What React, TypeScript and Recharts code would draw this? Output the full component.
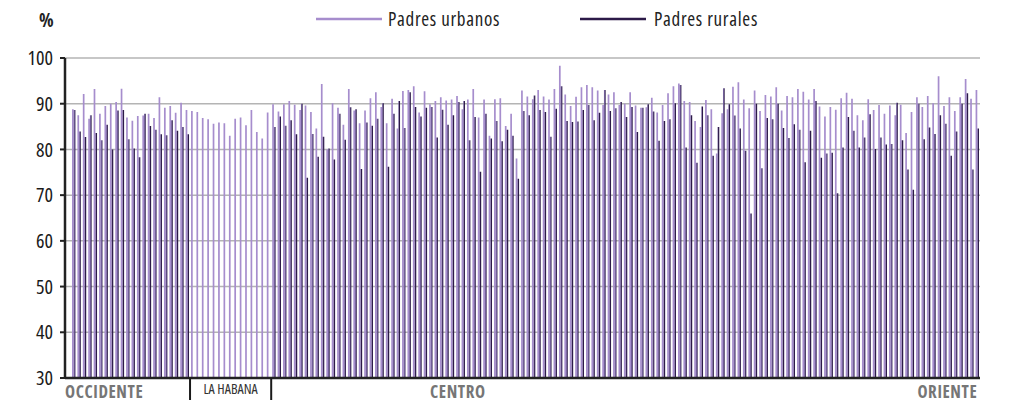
import React from 'react';
import { BarChart, Bar, XAxis, YAxis, CartesianGrid } from 'recharts';

// Percent values per municipality (urban / rural fathers)
const urbano: number[] = [
  88.8, 87.5, 92.1, 86.7, 93.2, 87.8, 89.5, 90.0, 90.4, 93.3, 87.0, 86.3, 87.3, 87.4, 87.8, 86.9, 91.4, 89.1, 89.5, 88.0, 90.2, 88.6,
  88.4, 88.2, 86.9, 86.6, 85.6, 85.9, 85.7, 83.0, 86.7, 87.0, 85.3, 88.6, 83.8, 82.4, 88.1,
  89.9, 88.3, 89.9, 90.6, 89.8, 88.6, 89.6, 88.2, 84.6, 94.3, 80.0, 90.1, 89.1, 85.4, 93.2, 88.5, 85.7,
  88.5, 91.2, 92.5, 89.3, 85.7, 91.1, 84.6, 92.8, 93.0, 93.8, 88.1, 92.7, 89.9, 90.6, 91.4, 90.7, 90.9, 91.7, 88.8,
  90.9, 93.2, 87.0, 90.9, 83.0, 91.0, 91.2, 85.1, 87.8, 78.0, 92.9, 91.6, 91.0, 93.0, 91.6, 90.9, 93.2, 98.3,
  92.0, 89.5, 91.5, 93.6, 94.1, 93.6, 92.9, 89.7, 92.0, 92.5, 89.7, 90.0, 92.5, 89.6, 89.1, 89.2, 91.3, 88.1, 89.7,
  92.3, 93.8, 94.4, 90.6, 90.4, 86.2, 84.9, 90.8, 88.8, 79.1, 87.9, 88.8, 93.7, 94.7, 90.9, 89.0, 92.9, 88.4,
  91.9, 91.6, 93.6, 88.5, 91.7, 91.4, 93.2, 92.6, 90.9, 93.2, 89.4, 87.2, 89.3, 88.7, 91.2, 92.4, 91.1, 87.5, 86.4,
  91.0, 88.6, 89.7, 87.8, 89.6, 87.5, 89.8, 83.6, 88.2, 91.4, 89.3, 91.7, 90.1, 96.0, 89.5, 91.4, 88.4, 91.4, 95.4, 91.1, 93.0,
];

const rural: (number | null)[] = [
  88.6, 83.9, 82.7, 87.5, 83.6, 82.0, 85.4, 80.0, 88.5, 88.6, 82.2, 80.2, 78.3, 87.8, 85.1, 84.3, 83.3, 83.1, 86.4, 84.1, 84.9, 83.3,
  null, null, null, null, null, null, null, null, null, null, null, null, null, null, null,
  84.9, 87.2, 85.2, 86.4, 83.3, 90.0, 73.8, 83.4, 78.4, 82.8, 80.2, 77.8, 87.8, 82.1, 89.2, 88.8, 75.7,
  85.9, 85.2, 86.7, 90.1, 76.2, 87.8, 90.6, 84.7, 92.5, 89.3, 87.2, 89.1, 89.3, 82.6, 88.7, 85.4, 87.5, 90.4, 90.6,
  82.0, 87.1, 75.1, 87.8, 82.4, 86.2, 81.8, 84.3, 83.0, 73.6, 88.4, 87.5, 91.8, 88.6, 88.2, 82.8, 88.9, 93.8,
  86.2, 86.0, 86.1, 88.6, 89.7, 86.4, 88.0, 93.0, 88.4, 89.0, 90.4, 87.1, 89.3, 83.8, 89.1, 89.9, 88.3, 81.9, 86.2,
  86.6, 90.1, 94.1, 80.4, 87.5, 77.1, 89.4, 87.5, 78.6, 84.9, 93.4, 89.9, 87.4, 84.6, 79.7, 66.0, 90.0, 75.9,
  86.9, 86.6, 90.0, 84.7, 82.5, 85.5, 84.3, 77.2, 84.1, 90.6, 78.2, 79.1, 79.3, 70.4, 80.4, 87.1, 84.1, 80.4, 82.6,
  87.7, 80.1, 82.6, 81.1, 81.2, 90.2, 82.0, 75.6, 71.2, 90.0, 82.2, 84.8, 83.4, 87.5, 85.6, 78.6, 83.9, 90.0, 92.3, 75.6, 84.6,
];

const categories: string[] = urbano.map((_, i) => `M${i + 1}`);
const yTicks: number[] = [30, 40, 50, 60, 70, 80, 90, 100];

const seriesNames = { urbano: 'Padres urbanos', rural: 'Padres rurales' };
const colorUrbano = '#a68dcd';
const colorRuralDark = '#2c1a48';
const colorRuralMid = '#6f5c98';

// region labels: index of category where label is anchored
const regionNames = ['OCCIDENTE', 'LA HABANA', 'CENTRO', 'ORIENTE'];
const regionLabelAt = [0, 29, 71, 167];
const regionAnchor = ['start', 'middle', 'middle', 'end'];
const separatorBefore = [22, 37];

const data = categories.map((c, i) => ({ muni: c, urbano: urbano[i], rural: rural[i] }));

const FONT = "'Open Sans','Roboto',sans-serif";
const STRETCH = '75%';

const RegionTick = (props: any) => {
  const { x, y, payload } = props;
  let i = payload && typeof payload.index === 'number' ? payload.index : categories.indexOf(payload.value);
  const half = payload && payload.offset ? payload.offset : 2.7;
  const parts: any[] = [];
  if (separatorBefore.includes(i)) {
    parts.push(<line key="s" x1={x - half} x2={x - half} y1={y} y2={y + 22} stroke="#1a1a1a" strokeWidth={2} />);
  }
  const r = regionLabelAt.indexOf(i);
  if (r >= 0) {
    const minor = regionNames[r] === 'LA HABANA';
    let tx = x;
    if (regionAnchor[r] === 'start') tx = x - half - 6;
    parts.push(
      <text
        key="t"
        x={tx}
        y={minor ? y + 16 : y + 20}
        textAnchor={regionAnchor[r] as any}
        style={{ fontFamily: FONT, fontStretch: STRETCH, fontSize: minor ? 14 : 17, fontWeight: minor ? 400 : 700, letterSpacing: minor ? 0 : 0.6 }}
        fill={minor ? '#333333' : '#767676'}
      >
        {regionNames[r]}
      </text>
    );
  }
  return <g>{parts}</g>;
};

export default function App() {
  const txt = { fontFamily: FONT, fontStretch: STRETCH } as any;
  const legTxt = { fontFamily: FONT, fontStretch: STRETCH, letterSpacing: 0.7 } as any;
  return (
    <div style={{ position: 'absolute', left: 0, top: 0, width: 1011, height: 402, background: '#fff', ...txt }}>
      <div style={{ position: 'absolute', left: 39, top: 7, fontSize: 19, fontWeight: 700, color: '#222', ...txt }}>%</div>
      <div style={{ position: 'absolute', left: 316, top: 6, display: 'flex', alignItems: 'center', fontSize: 19, color: '#222', ...legTxt }}>
        <svg width={66} height={4} style={{ marginRight: 6 }}><line x1={0} x2={66} y1={2} y2={2} stroke={colorUrbano} strokeWidth={2.5} /></svg>
        <span>{seriesNames.urbano}</span>
      </div>
      <div style={{ position: 'absolute', left: 580, top: 6, display: 'flex', alignItems: 'center', fontSize: 19, color: '#222', ...legTxt }}>
        <svg width={66} height={4} style={{ marginRight: 8 }}><line x1={0} x2={66} y1={2} y2={2} stroke={colorRuralDark} strokeWidth={2.5} /></svg>
        <span>{seriesNames.rural}</span>
      </div>
      <BarChart
        width={1011}
        height={402}
        data={data}
        margin={{ top: 58, right: 31, bottom: 0, left: 0 }}
        barGap={0}
        barSize={1.7}
      >
        <defs>
          <linearGradient id="rurGrad" x1="0" y1="0" x2="1" y2="0">
            <stop offset="0%" stopColor={colorRuralMid} />
            <stop offset="45%" stopColor={colorRuralMid} />
            <stop offset="55%" stopColor={colorRuralDark} />
            <stop offset="100%" stopColor={colorRuralDark} />
          </linearGradient>
        </defs>
        <CartesianGrid vertical={false} stroke="#b4b4b4" strokeWidth={1.5} />
        <XAxis
          dataKey="muni"
          interval={0}
          tickSize={0}
          tickMargin={0}
          tick={<RegionTick />}
          axisLine={{ stroke: '#222', strokeWidth: 2.5 }}
          tickLine={false}
          height={24}
          padding={{ left: 6, right: 0 }}
        />
        <YAxis
          domain={[30, 100]}
          ticks={yTicks}
          interval={0}
          width={65}
          allowDataOverflow
          axisLine={{ stroke: '#222', strokeWidth: 2.5 }}
          tickLine={{ stroke: '#222', strokeWidth: 2 }}
          tickSize={5}
          tickMargin={7}
          tick={{ fontSize: 20, fill: '#1a1a1a', style: { fontFamily: FONT, fontStretch: STRETCH } } as any}
        />
        <Bar dataKey="urbano" name={seriesNames.urbano} fill={colorUrbano} isAnimationActive={false} />
        <Bar dataKey="rural" name={seriesNames.rural} fill="url(#rurGrad)" isAnimationActive={false} />
      </BarChart>
    </div>
  );
}
